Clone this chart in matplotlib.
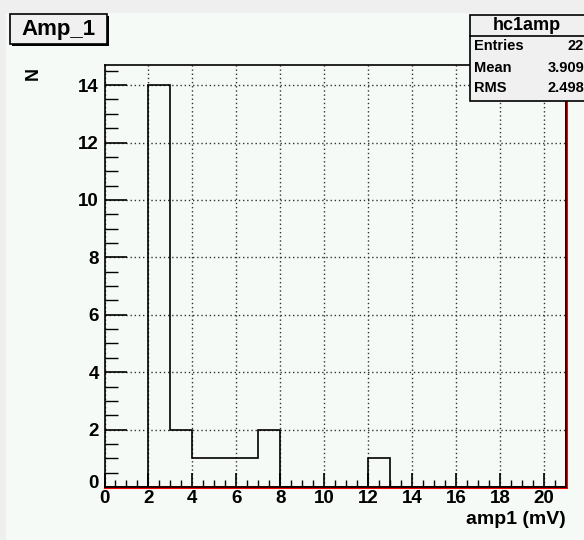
import matplotlib
matplotlib.use("Agg")
import matplotlib.pyplot as plt
import matplotlib.transforms as mtransforms
from matplotlib.patches import Rectangle
import numpy as np

# ---- data ----
bin_edges = list(range(0, 22))          # 0..21, width 1
counts = [0, 0, 14, 2, 1, 1, 1, 2, 0, 0, 0, 0, 1, 0, 0, 0, 0, 0, 0, 0, 0]
x_ticks = [0, 2, 4, 6, 8, 10, 12, 14, 16, 18, 20]
y_ticks = [0, 2, 4, 6, 8, 10, 12, 14]
title_text = "Amp_1"
stats_name = "hc1amp"
stats_labels = ["Entries", "Mean", "RMS"]
stats_values = ["22", "3.909", "2.498"]
x_label = "amp1 (mV)"
y_label = "N"

W, H = 584, 540
fig = plt.figure(figsize=(W / 100, H / 100), dpi=100)
fig.patch.set_facecolor("#efefef")
plt.rcParams['font.family'] = ['Liberation Sans', 'DejaVu Sans']
plt.rcParams['font.weight'] = 'bold'

def fx(px):
    return px / W

def fy(py):
    return 1 - py / H

# canvas
fig.patches.append(Rectangle((fx(6), 0), 1, fy(13), transform=fig.transFigure,
                             facecolor="#f6faf7", edgecolor="none", zorder=-5))

L, R, T, B = 104.5, 566, 65, 487
ax = fig.add_axes([fx(L), fy(B), fx(R - L), (B - T) / H])
ax.set_zorder(1)
ax.set_facecolor("#f6faf7")
ax.set_xlim(0, 21)
ax.set_ylim(0, 14.7)

ax.stairs(counts, bin_edges, color="black", linewidth=1.2, baseline=None, zorder=3)

ax.set_xticks(x_ticks)
ax.set_yticks(y_ticks)
ax.set_xticks(np.arange(0, 21.01, 0.5), minor=True)
ax.set_yticks(np.arange(0, 14.71, 0.5), minor=True)
ax.tick_params(axis='both', which='major', direction='in', colors='black', width=1.2,
               labelsize=13.5)
ax.tick_params(axis='x', which='major', length=10, pad=2)
ax.tick_params(axis='y', which='major', length=16, pad=4)
ax.tick_params(axis='x', which='minor', direction='in', length=5, width=1.0)
ax.tick_params(axis='y', which='minor', direction='in', length=9, width=1.0)
for lab in ax.get_xticklabels() + ax.get_yticklabels():
    lab.set_fontweight('bold')

# shift the y "0" label up a little, x "0" label is at the corner
ylabs = ax.get_yticklabels()
ylabs[0].set_transform(ylabs[0].get_transform() +
                       mtransforms.ScaledTranslation(0, 5 / 100, fig.dpi_scale_trans))

ax.grid(True, which='major', linestyle=(0, (1, 2)), color='#333333', linewidth=1.0)
ax.set_axisbelow(True)
for s in ax.spines.values():
    s.set_color('black')
    s.set_linewidth(1.2)

# red lines bottom and right
ax.plot([0, 1], [0, 0], color='red', linewidth=2.2, transform=ax.transAxes,
        clip_on=False, zorder=2)
ax.plot([1, 1], [0, 1], color='red', linewidth=2.2, transform=ax.transAxes,
        clip_on=False, zorder=2)

ax.set_xlabel(x_label, fontsize=14, fontweight='bold', loc='right', labelpad=3)
fig.text(fx(33), fy(67), y_label, rotation=90, ha='center', va='top',
         fontsize=13, fontweight='bold')

# title box
fig.patches.append(Rectangle((fx(12), fy(46)), fx(97), 30 / H, transform=fig.transFigure,
                             facecolor='black', edgecolor='none', zorder=5))
fig.patches.append(Rectangle((fx(10), fy(44)), fx(97), 30 / H, transform=fig.transFigure,
                             facecolor='#f0f0f0', edgecolor='black', linewidth=1.2, zorder=6))
fig.text(fx(58), fy(29), title_text, ha='center', va='center', fontsize=16,
         fontweight='bold', zorder=7)

# stats box
sx0, sy0, sy1 = 470, 15, 101
fig.patches.append(Rectangle((fx(sx0), fy(sy1)), fx(W - sx0 + 5), (sy1 - sy0) / H,
                             transform=fig.transFigure, facecolor='#f0f0f0',
                             edgecolor='black', linewidth=1.2, zorder=6))
fig.lines.append(plt.Line2D([fx(sx0), 1], [fy(36), fy(36)], transform=fig.transFigure,
                            color='black', linewidth=1.2, zorder=7))
fig.text(fx(527), fy(25), stats_name, ha='center', va='center', fontsize=13,
         fontweight='bold', zorder=8)
rows_y = [46, 68, 88]
for lbl, val, yy in zip(stats_labels, stats_values, rows_y):
    fig.text(fx(474), fy(yy), lbl, ha='left', va='center', fontsize=10.5,
             fontweight='bold', zorder=8)
    fig.text(fx(584), fy(yy), val, ha='right', va='center', fontsize=10.5,
             fontweight='bold', zorder=8)

fig.savefig("out.png", dpi=100, facecolor=fig.get_facecolor())
